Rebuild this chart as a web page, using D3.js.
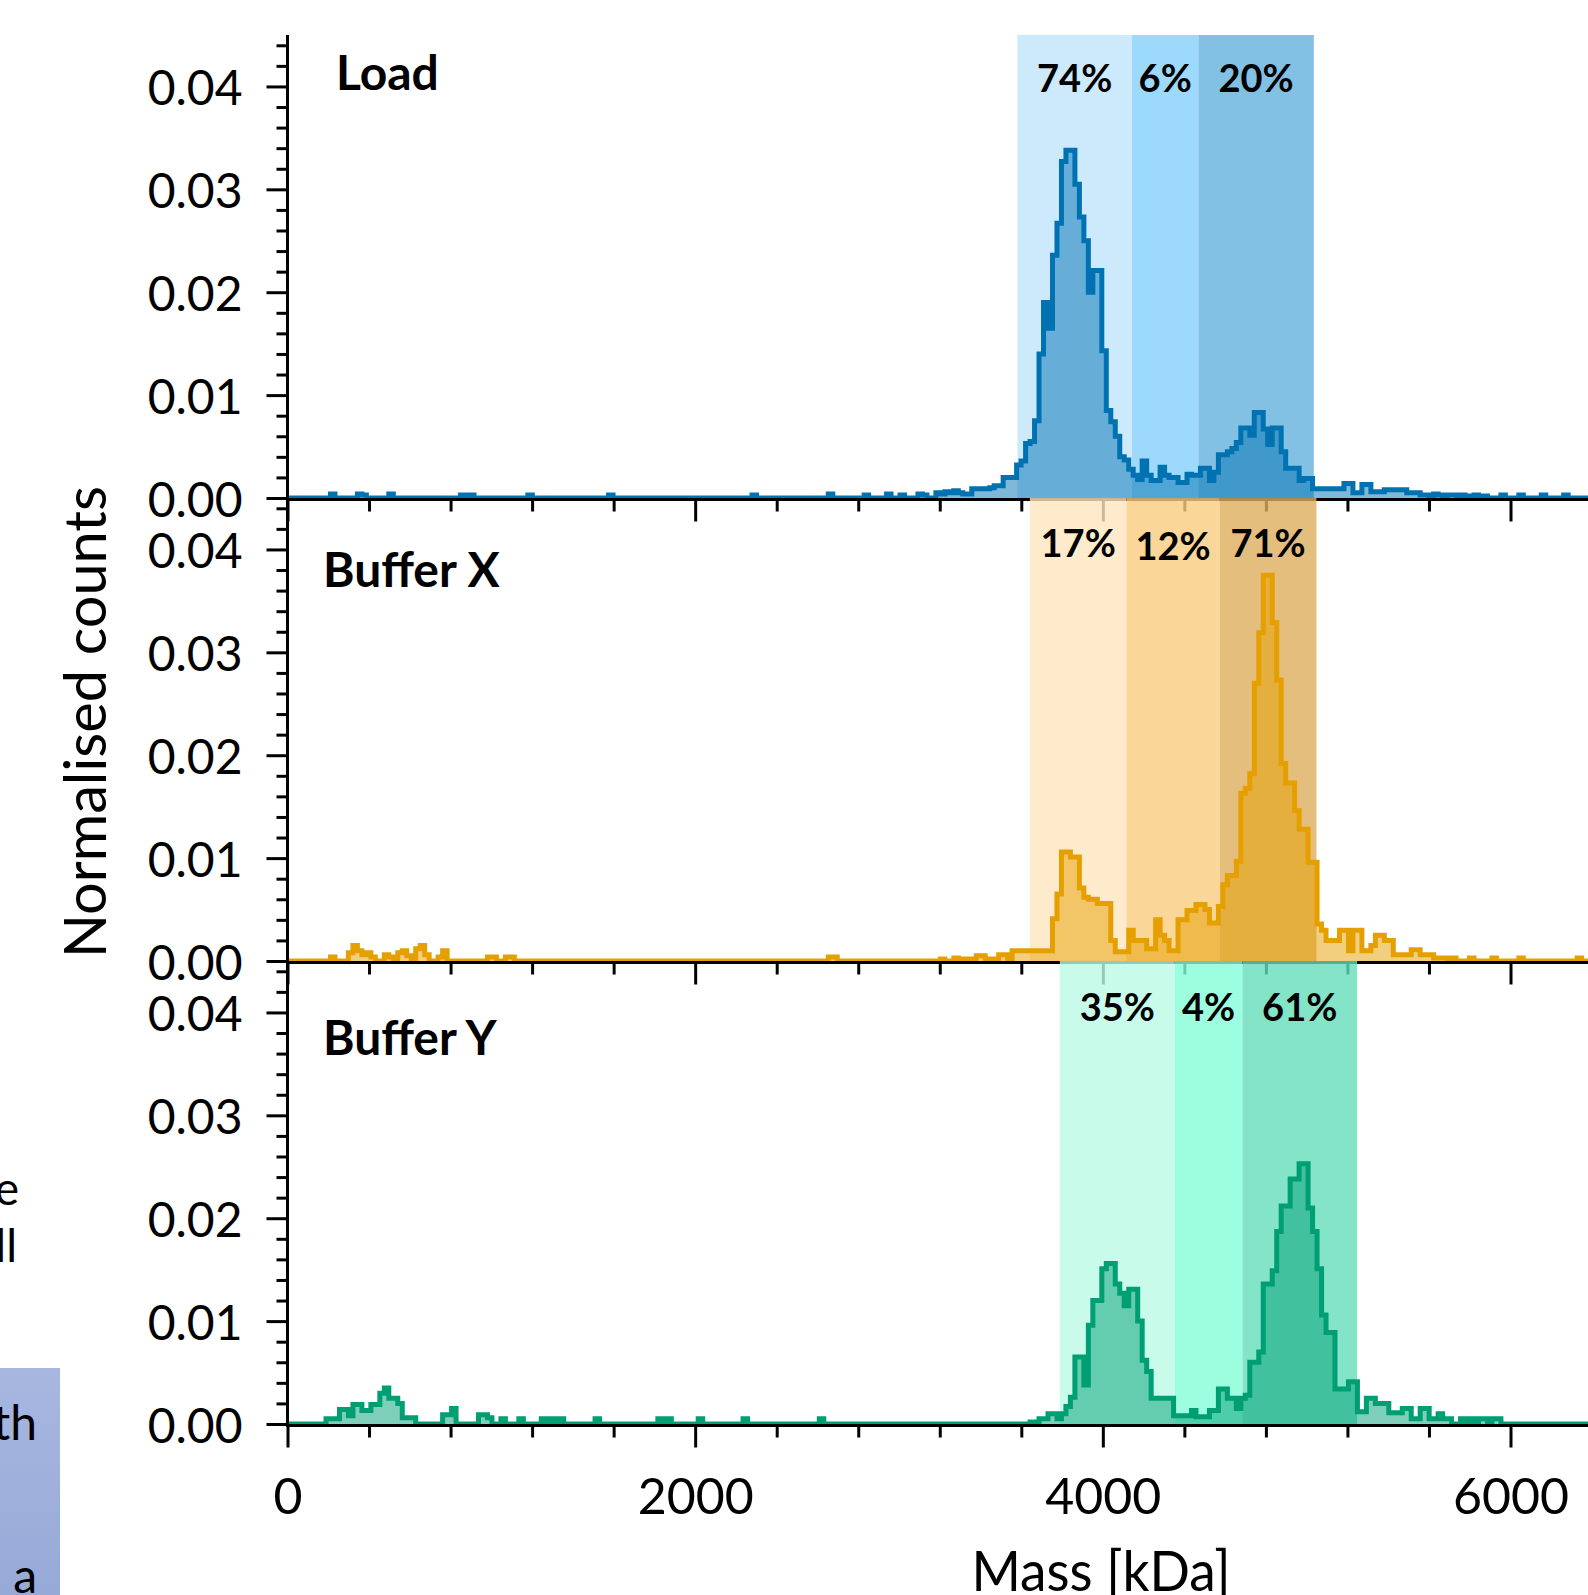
<!DOCTYPE html>
<html>
<head>
<meta charset="utf-8">
<script src="https://cdn.jsdelivr.net/npm/d3@7"></script>
<style>
  body { margin: 0; background: #fff; }
  svg { display: block; overflow: hidden; }
  text { font-family: Lato, "Open Sans", sans-serif; fill: #000; }
</style>
</head>
<body>
<svg id="chart" width="1588" height="1595"></svg>
<script>
// histogram bins: first edge and width in kDa
const binStart = 13;
const binWidth = 22;

// normalised counts per bin, one row = 10 bins
const loadCounts = [
  0, 0, 0, 0, 0, 0, 0, 0, 0, 0.0004,
  0, 0, 0, 0, 0, 0.0004, 0.0003, 0, 0, 0,
  0, 0, 0.0004, 0, 0, 0, 0, 0, 0, 0,
  0, 0, 0, 0, 0, 0, 0, 0, 0.0003, 0,
  0.0003, 0, 0, 0, 0, 0, 0, 0, 0, 0,
  0, 0, 0, 0.0003, 0, 0, 0, 0, 0, 0,
  0, 0, 0, 0, 0, 0, 0, 0, 0, 0,
  0, 0.0003, 0, 0, 0, 0, 0, 0, 0, 0,
  0, 0, 0, 0, 0, 0, 0, 0, 0, 0,
  0, 0, 0, 0, 0, 0, 0, 0, 0, 0,
  0, 0, 0, 0.0003, 0, 0, 0, 0, 0, 0,
  0, 0, 0, 0, 0, 0, 0, 0, 0, 0,
  0.0004, 0, 0, 0, 0, 0, 0, 0, 0.0003, 0,
  0, 0, 0, 0.0004, 0, 0, 0.0003, 0, 0, 0,
  0.0004, 0.0003, 0, 0, 0.0005, 0.0004, 0.0006, 0.0005, 0.0007, 0.0005,
  0.0004, 0.0004, 0.0009, 0.0009, 0.0009, 0.0009, 0.0010, 0.0012, 0.0012, 0.0020,
  0.0020, 0.0020, 0.0032, 0.0036, 0.0053, 0.0055, 0.0075, 0.0140, 0.0190, 0.0165,
  0.0236, 0.0267, 0.0327, 0.0338, 0.0338, 0.0305, 0.0273, 0.0250, 0.0200, 0.0221,
  0.0221, 0.0143, 0.0085, 0.0074, 0.0060, 0.0040, 0.0037, 0.0028, 0.0022, 0.0018,
  0.0036, 0.0022, 0.0017, 0.0017, 0.0030, 0.0022, 0.0020, 0.0020, 0.0015, 0.0015,
  0.0023, 0.0022, 0.0022, 0.0029, 0.0029, 0.0017, 0.0025, 0.0042, 0.0042, 0.0045,
  0.0048, 0.0054, 0.0068, 0.0068, 0.0061, 0.0083, 0.0083, 0.0067, 0.0052, 0.0068,
  0.0068, 0.0045, 0.0029, 0.0029, 0.0029, 0.0017, 0.0019, 0.0019, 0.0009, 0.0009,
  0.0009, 0.0009, 0.0009, 0.0009, 0.0009, 0.0014, 0.0014, 0.0005, 0.0005, 0.0013,
  0.0013, 0.0006, 0.0006, 0.0006, 0.0008, 0.0008, 0.0008, 0.0008, 0.0008, 0.0005,
  0.0005, 0.0005, 0.0003, 0.0003, 0, 0.0004, 0.0003, 0, 0.0003, 0.0003,
  0, 0.0003, 0, 0.0002, 0.0003, 0, 0.0002, 0, 0, 0,
  0.0003, 0, 0, 0, 0.0003, 0, 0, 0, 0, 0.0003,
  0, 0, 0, 0, 0.0003, 0, 0, 0, 0, 0
];

const bufferXCounts = [
  0, 0, 0, 0, 0, 0, 0, 0, 0, 0.0004,
  0, 0, 0, 0.0008, 0.0015, 0.0010, 0.0006, 0.0008, 0.0004, 0,
  0, 0.0006, 0.0004, 0, 0.0008, 0.0010, 0.0005, 0, 0.0012, 0.0015,
  0.0006, 0, 0, 0.0004, 0.0010, 0, 0, 0, 0, 0,
  0, 0, 0, 0, 0.0004, 0.0004, 0, 0, 0.0004, 0.0004,
  0, 0, 0, 0, 0, 0, 0, 0, 0, 0,
  0, 0, 0, 0, 0, 0, 0, 0, 0, 0,
  0, 0, 0, 0, 0, 0, 0, 0, 0, 0,
  0, 0, 0, 0, 0, 0, 0, 0, 0, 0,
  0, 0, 0, 0, 0, 0, 0, 0, 0, 0,
  0, 0, 0, 0, 0, 0, 0, 0, 0, 0,
  0, 0, 0, 0, 0, 0, 0, 0, 0, 0,
  0.0004, 0.0004, 0, 0, 0, 0, 0, 0, 0, 0,
  0, 0, 0, 0, 0, 0, 0, 0, 0, 0,
  0, 0, 0, 0, 0, 0.0002, 0, 0, 0.0003, 0,
  0.0002, 0.0002, 0.0002, 0.0005, 0.0005, 0.0002, 0.0002, 0.0002, 0.0006, 0.0006,
  0.0002, 0.0010, 0.0010, 0.0010, 0.0010, 0.0010, 0.0010, 0.0010, 0.0010, 0.0010,
  0.0041, 0.0065, 0.0106, 0.0106, 0.0101, 0.0101, 0.0071, 0.0062, 0.0060, 0.0060,
  0.0056, 0.0056, 0.0056, 0.0020, 0.0009, 0.0009, 0.0009, 0.0030, 0.0020, 0.0020,
  0.0020, 0.0012, 0.0012, 0.0040, 0.0025, 0.0020, 0.0010, 0.0010, 0.0040, 0.0040,
  0.0049, 0.0049, 0.0055, 0.0055, 0.0050, 0.0037, 0.0037, 0.0053, 0.0074, 0.0083,
  0.0083, 0.0097, 0.0163, 0.0168, 0.0182, 0.0270, 0.0319, 0.0375, 0.0375, 0.0329,
  0.0273, 0.0192, 0.0173, 0.0173, 0.0146, 0.0128, 0.0128, 0.0096, 0.0096, 0.0036,
  0.0030, 0.0020, 0.0020, 0.0020, 0.0030, 0.0030, 0.0010, 0.0030, 0.0030, 0.0010,
  0.0010, 0.0015, 0.0025, 0.0025, 0.0020, 0.0020, 0.0006, 0.0006, 0.0006, 0.0006,
  0.0011, 0.0011, 0.0006, 0.0006, 0.0006, 0.0003, 0.0003, 0.0003, 0, 0.0003,
  0, 0, 0, 0.0003, 0, 0, 0, 0, 0.0003, 0,
  0, 0, 0, 0, 0.0003, 0, 0, 0, 0, 0,
  0, 0, 0, 0, 0, 0, 0, 0.0003, 0, 0
];

const bufferYCounts = [
  0, 0, 0, 0, 0, 0, 0, 0, 0.0005, 0.0005,
  0.0005, 0.0014, 0.0014, 0.0008, 0.0019, 0.0019, 0.0013, 0.0013, 0.0019, 0.0019,
  0.0030, 0.0035, 0.0025, 0.0025, 0.0020, 0.0006, 0.0006, 0.0006, 0, 0,
  0, 0, 0, 0, 0.0009, 0.0009, 0.0015, 0, 0, 0,
  0, 0, 0.0009, 0.0009, 0.0006, 0, 0, 0.0005, 0, 0,
  0, 0.0005, 0, 0, 0, 0, 0.0005, 0, 0.0005, 0,
  0.0005, 0, 0, 0, 0, 0, 0, 0, 0.0005, 0,
  0, 0, 0, 0, 0, 0, 0, 0, 0, 0,
  0, 0, 0.0005, 0, 0.0005, 0, 0, 0, 0, 0,
  0, 0.0005, 0, 0, 0, 0, 0, 0, 0, 0,
  0, 0.0005, 0, 0, 0, 0, 0, 0, 0, 0,
  0, 0, 0, 0, 0, 0, 0, 0, 0.0005, 0,
  0, 0, 0, 0, 0, 0, 0, 0, 0, 0,
  0, 0, 0, 0, 0, 0, 0, 0, 0, 0,
  0, 0, 0, 0, 0, 0, 0, 0, 0, 0,
  0, 0, 0, 0, 0, 0, 0, 0, 0, 0,
  0, 0, 0, 0, 0, 0.0002, 0.0002, 0.0005, 0.0005, 0.0010,
  0.0010, 0.0005, 0.0010, 0.0017, 0.0026, 0.0065, 0.0065, 0.0038, 0.0096, 0.0120,
  0.0120, 0.0151, 0.0156, 0.0156, 0.0136, 0.0127, 0.0115, 0.0131, 0.0131, 0.0100,
  0.0062, 0.0051, 0.0025, 0.0025, 0.0025, 0.0025, 0.0025, 0.0008, 0.0008, 0.0008,
  0.0008, 0.0013, 0.0007, 0.0007, 0.0007, 0.0013, 0.0013, 0.0034, 0.0034, 0.0025,
  0.0025, 0.0015, 0.0025, 0.0028, 0.0060, 0.0060, 0.0070, 0.0136, 0.0136, 0.0149,
  0.0187, 0.0212, 0.0212, 0.0238, 0.0238, 0.0253, 0.0253, 0.0210, 0.0187, 0.0151,
  0.0106, 0.0089, 0.0089, 0.0034, 0.0034, 0.0034, 0.0041, 0.0041, 0.0012, 0.0012,
  0.0025, 0.0025, 0.0020, 0.0020, 0.0020, 0.0011, 0.0011, 0.0011, 0.0015, 0.0015,
  0.0005, 0.0005, 0.0015, 0.0015, 0.0005, 0.0005, 0.0010, 0.0005, 0.0005, 0,
  0, 0.0005, 0, 0.0005, 0, 0.0005, 0.0005, 0, 0.0005, 0.0005,
  0, 0, 0, 0, 0, 0, 0, 0, 0, 0,
  0, 0, 0, 0, 0, 0, 0, 0, 0, 0
];

const panelNames = ["Load", "Buffer X", "Buffer Y"];
// gate edges in kDa and the share inside each gate
const regionEdges = [
  [3581, 4143, 4469, 5035],
  [3642, 4116, 4574, 5048],
  [3789, 4353, 4685, 5247]
];
const regionShares = [
  ["74%", "6%", "20%"],
  ["17%", "12%", "71%"],
  ["35%", "4%", "61%"]
];
const yTicks = [0, 0.01, 0.02, 0.03, 0.04];
const xTicks = [0, 2000, 4000, 6000];

// styling / layout
const lineColors = ["#0072B2", "#E69F00", "#009E73"];
const regionColors = [
  ["#bfe5fb", "#85d0fa", "#63b0dd"],
  ["#fee6bf", "#f9cc7e", "#dcae5d"],
  ["#bafae5", "#83fdd7", "#64ddba"]
];
const panelBottoms = [498, 961, 1424];
const panelHeight = 463;
const titlePos = [[336, 90], [323, 587], [323, 1055]];
const shareBaselines = [[92, 92, 92], [557, 560, 557], [1021, 1021, 1021]];
const axisX = 287.5;
const W = 1588;

const series = [loadCounts, bufferXCounts, bufferYCounts];
const svg = d3.select("#chart");

const x = d3.scaleLinear().domain([0, 6000]).range([axisX, 1510.5]);

svg.append("defs").append("clipPath").attr("id", "plotClip")
  .append("rect").attr("x", axisX).attr("y", 0).attr("width", W - axisX).attr("height", 1595);

// bits of the slide that sit left of the chart
const stray = svg.append("g");
stray.append("text").attr("x", 19).attr("y", 1205).attr("text-anchor", "end")
  .style("font-size", "46px").text("e");
stray.append("text").attr("x", 17).attr("y", 1262).attr("text-anchor", "end")
  .style("font-size", "46px").text("ll");
const grad = svg.select("defs").append("linearGradient").attr("id", "boxGrad")
  .attr("x1", 0).attr("y1", 0).attr("x2", 0).attr("y2", 1);
grad.append("stop").attr("offset", "0%").attr("stop-color", "#a7b7e0");
grad.append("stop").attr("offset", "100%").attr("stop-color", "#97a9d7");
stray.append("rect").attr("x", 0).attr("y", 1368).attr("width", 60).attr("height", 227)
  .attr("fill", "url(#boxGrad)");
stray.append("text").attr("x", 37).attr("y", 1440).attr("text-anchor", "end")
  .style("font-size", "48px").text("th");
stray.append("text").attr("x", 37).attr("y", 1593).attr("text-anchor", "end")
  .style("font-size", "48px").text("a");

panelNames.forEach((name, p) => {
  const bottom = panelBottoms[p];
  const y = d3.scaleLinear().domain([0, 0.045]).range([bottom, bottom - panelHeight]);
  const g = svg.append("g");
  const plot = g.append("g").attr("clip-path", "url(#plotClip)");
  const edges = regionEdges[p];

  // gates
  plot.selectAll("rect.region")
    .data(d3.range(3))
    .enter().append("rect")
    .attr("class", "region")
    .attr("x", k => x(edges[k]))
    .attr("width", k => x(edges[k + 1]) - x(edges[k]))
    .attr("y", y(0.045))
    .attr("height", y(0) - y(0.045))
    .attr("fill", k => regionColors[p][k])
    .attr("fill-opacity", 0.8);

  // x axis line + ticks
  const xa = g.append("g").attr("transform", `translate(0,${bottom + 1.5})`);
  xa.append("line").attr("x1", axisX).attr("x2", W).attr("stroke", "#000").attr("stroke-width", 3);
  const minorX = d3.range(0, 6401, 400).filter(v => v % 2000 !== 0);
  xa.append("g").call(d3.axisBottom(x).tickValues(minorX).tickSize(12).tickSizeOuter(0).tickFormat(""));
  xa.append("g").call(d3.axisBottom(x).tickValues(xTicks).tickSize(22).tickSizeOuter(0)
    .tickFormat(p === 2 ? d3.format("d") : ""));
  xa.selectAll(".domain").remove();
  xa.selectAll(".tick line").attr("stroke", "#000").attr("stroke-width", 3);
  xa.selectAll(".tick text").attr("y", 88).attr("dy", 0)
    .attr("font-family", null).style("font-size", "50px");

  // histogram
  const counts = series[p];
  const pts = [[0, 0]].concat(
    counts.map((v, i) => [binStart + i * binWidth, v]),
    [[binStart + counts.length * binWidth, counts[counts.length - 1]]]
  );
  const area = d3.area().x(d => x(d[0])).y0(y(0)).y1(d => y(d[1])).curve(d3.curveStepAfter);
  const line = d3.line().x(d => x(d[0])).y(d => y(d[1])).curve(d3.curveStepAfter);
  plot.append("path").attr("d", area(pts)).attr("fill", lineColors[p]).attr("fill-opacity", 0.5);
  plot.append("path").attr("d", line(pts)).attr("fill", "none")
    .attr("stroke", lineColors[p]).attr("stroke-width", 5).attr("stroke-linejoin", "miter");

  // gate shares
  g.selectAll("text.share")
    .data(regionShares[p])
    .enter().append("text")
    .attr("class", "share")
    .attr("x", (d, k) => (x(edges[k]) + x(edges[k + 1])) / 2)
    .attr("y", (d, k) => shareBaselines[p][k])
    .attr("text-anchor", "middle")
    .style("font-size", "38px").style("font-weight", "bold")
    .text(d => d);

  // panel title
  g.append("text").attr("x", titlePos[p][0]).attr("y", titlePos[p][1])
    .style("font-size", "48px").style("font-weight", "bold").text(name);

  // y axis ticks
  const ya = g.append("g").attr("transform", `translate(${axisX},0)`);
  const minorY = d3.range(1, 23).map(k => k * 0.002).filter(v => Math.round(v * 1000) % 10 !== 0);
  ya.append("g").call(d3.axisLeft(y).tickValues(minorY).tickSize(11).tickSizeOuter(0).tickFormat(""));
  ya.append("g").call(d3.axisLeft(y).tickValues(yTicks).tickSize(21).tickSizeOuter(0)
    .tickPadding(24).tickFormat(d3.format(".2f")));
  ya.selectAll(".domain").remove();
  ya.selectAll(".tick line").attr("stroke", "#000").attr("stroke-width", 3);
  ya.selectAll(".tick text").attr("dy", "0.38em").attr("font-family", null).style("font-size", "48px");
});

// continuous y axis line
svg.append("line").attr("x1", axisX).attr("x2", axisX).attr("y1", 35).attr("y2", panelBottoms[2] + 3)
  .attr("stroke", "#000").attr("stroke-width", 3);

// axis titles
svg.append("text")
  .attr("transform", "translate(106,722) rotate(-90)")
  .attr("text-anchor", "middle")
  .attr("textLength", 472).attr("lengthAdjust", "spacingAndGlyphs")
  .style("font-size", "58px")
  .text("Normalised counts");
svg.append("text")
  .attr("x", 1101).attr("y", 1591)
  .attr("text-anchor", "middle")
  .attr("textLength", 259).attr("lengthAdjust", "spacingAndGlyphs")
  .style("font-size", "56px")
  .text("Mass [kDa]");
</script>
</body>
</html>
